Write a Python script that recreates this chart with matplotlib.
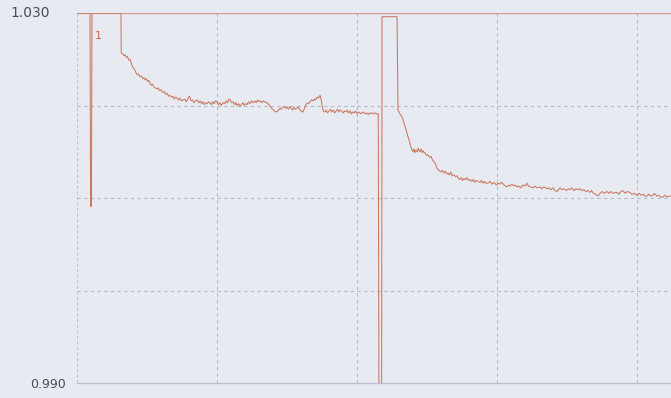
import numpy as np
import matplotlib.pyplot as plt

# trace 1: start, spike, first decay, drop
x1 = [0, 9.3, 9.7, 10.3, 10.7, 31.4, 31.6,
      32.5, 33.5, 34.3, 35.2, 36.0, 37.0, 37.9, 38.8, 39.6, 40.5, 41.4, 42.3, 43.2, 44.0,
      45.0, 46.0, 47.0, 47.8, 48.6, 49.5, 50.4, 51.3, 52.1, 53.0, 54.0, 55.0, 56.0, 57.1,
      58.0, 59.0, 60.0, 61.4, 62.5, 63.5, 64.5, 65.5, 66.4, 67.5, 68.5, 69.5, 70.5, 71.4,
      72.5, 73.5, 74.5, 75.7, 77.0, 78.0, 79.0, 80.0, 80.7, 81.5, 82.5, 83.5, 84.5, 85.7,
      87.0, 88.0, 89.0, 90.0, 91.0, 92.0, 93.0, 94.0, 95.0, 96.0, 97.0, 98.0, 99.0, 100.0,
      101.0, 102.0, 103.0, 104.3, 105.5, 106.5, 107.5, 108.5, 109.3, 110.5, 111.5, 112.5,
      113.5, 114.3, 115.5, 116.5, 117.5, 118.5, 119.5, 120.5, 121.4, 122.5, 123.5, 124.5,
      125.7, 127.0, 128.0, 129.0, 130.0, 131.0, 132.0, 133.0, 134.0, 135.7, 137.0, 138.0,
      139.0, 140.0, 141.0, 142.9, 144.0, 145.0, 146.0, 147.0, 148.0, 149.0, 150.0, 151.0,
      152.0, 153.0, 154.0, 155.0, 156.0, 157.1, 158.0, 159.0, 160.0, 161.4, 162.5, 163.5,
      164.5, 165.5, 166.4, 167.5, 168.5, 169.5, 170.5, 171.4, 172.5, 173.6, 174.5, 175.3,
      176.0, 177.1, 178.0, 179.0, 180.0, 181.0, 182.0, 182.9, 184.0, 185.0, 186.0, 187.0,
      188.0, 189.0, 190.0, 191.0, 192.0, 193.0, 194.0, 195.0, 196.0, 197.0, 198.0, 199.0,
      200.0, 201.0, 202.0, 203.0, 204.0, 205.0, 206.0, 207.0, 208.0, 209.0, 210.0, 211.0,
      212.0, 213.0, 214.0, 215.2, 215.7]
y1 = [1.030, 1.030, 1.0091, 1.0091, 1.030, 1.030, 1.0257,
      1.0256, 1.0254, 1.0255, 1.0252, 1.0253, 1.0249, 1.0250, 1.0246, 1.0242, 1.0240, 1.0238, 1.0235, 1.0233, 1.0234,
      1.0231, 1.0232, 1.0229, 1.0230, 1.0228, 1.0229, 1.0226, 1.0227, 1.0224, 1.0222, 1.0223, 1.0220, 1.0219, 1.0218,
      1.0219, 1.0216, 1.0217, 1.0214, 1.0215, 1.0212, 1.0213, 1.0210, 1.0211, 1.0209, 1.0210, 1.0207, 1.0209, 1.0208,
      1.0206, 1.0208, 1.0205, 1.0206, 1.0207, 1.0204, 1.0206, 1.0210, 1.0209, 1.0205, 1.0206, 1.0203, 1.0205, 1.0206,
      1.0203, 1.0205, 1.0202, 1.0204, 1.0201, 1.0203, 1.0202, 1.0204, 1.0203, 1.0201, 1.0204, 1.0202, 1.0205, 1.0204,
      1.0201, 1.0203, 1.0200, 1.0203, 1.0202, 1.0205, 1.0203, 1.0207, 1.0206, 1.0203, 1.0204, 1.0201,
      1.0203, 1.0200, 1.0202, 1.0199, 1.0201, 1.0203, 1.0200, 1.0202, 1.0201, 1.0204, 1.0202, 1.0205,
      1.0203, 1.0205, 1.0203, 1.0206, 1.0204, 1.0205, 1.0203, 1.0205, 1.0204, 1.0203, 1.0201, 1.0199,
      1.0197, 1.0196, 1.0194, 1.0193, 1.0195, 1.0197, 1.0196, 1.0198, 1.0199, 1.0197, 1.0198, 1.0196,
      1.0199, 1.0197, 1.0195, 1.0198, 1.0196, 1.0197, 1.0199, 1.0196, 1.0194, 1.0193, 1.0197, 1.0201,
      1.0203, 1.0202, 1.0204, 1.0206, 1.0205, 1.0207, 1.0206, 1.0209, 1.0208, 1.0211, 1.0206, 1.0198,
      1.0194, 1.0193, 1.0195, 1.0192, 1.0194, 1.0196, 1.0193, 1.0195, 1.0192, 1.0194, 1.0196, 1.0193,
      1.0195, 1.0194, 1.0192, 1.0194, 1.0193, 1.0195, 1.0192, 1.0194, 1.0191, 1.0193, 1.0192, 1.0194,
      1.0191, 1.0193, 1.0192, 1.0191, 1.0193, 1.0192, 1.0191, 1.0192, 1.0190, 1.0192, 1.0191, 1.0192,
      1.0191, 1.0192, 1.0191, 1.0191, 0.9880]

# trace 2: jump to top, second decay
x2 = [217.6, 217.9, 228.6, 229.3, 230.0, 231.0, 232.1, 233.0, 234.0, 235.0, 235.7, 236.5,
      237.5, 238.5, 239.3, 240.0, 240.7, 241.4, 242.2, 243.0, 243.8, 244.5, 245.0, 245.8,
      246.5, 247.3, 248.0, 248.6, 249.5, 250.5, 251.3, 252.1, 253.0, 254.0, 255.0, 255.7,
      256.5, 257.5, 258.5, 259.3, 260.0, 261.0, 262.0, 263.0, 264.0, 265.0, 266.0, 267.0,
      268.0, 269.3, 270.5, 271.5, 272.5, 273.6, 274.5, 275.5, 276.5, 277.5, 278.5, 279.5,
      280.7, 282.0, 283.0, 284.0, 285.0, 286.0, 287.9, 289.0, 290.0, 291.0, 292.0, 293.6,
      295.0, 296.5, 298.0, 299.5, 301.0, 302.1, 303.5, 305.0, 306.0, 307.1, 308.5, 309.5,
      310.7, 312.0, 313.0, 314.3, 315.5, 317.0, 318.5, 320.0, 321.4, 322.5, 324.0, 325.7,
      327.0, 328.5, 330.7, 332.0, 333.5, 335.7, 337.0, 338.5, 340.0, 341.5, 342.9, 344.0,
      345.0, 346.5, 348.0, 349.5, 351.0, 352.1, 353.5, 355.0, 356.5, 358.0, 359.3, 360.5,
      362.0, 363.5, 365.0, 366.4, 367.5, 369.0, 370.5, 372.1, 373.5, 375.0, 376.5, 378.6,
      380.0, 381.5, 383.0, 384.5, 385.7, 387.0, 388.5, 390.0, 391.5, 393.0, 395.0, 396.5,
      398.0, 400.0, 401.5, 403.0, 404.5, 405.5, 407.1, 408.5, 410.0, 411.4, 412.5, 414.0,
      415.5, 417.0, 418.6, 420.0, 421.5, 423.0, 424.3]
y2 = [0.9880, 1.0296, 1.0296, 1.0195, 1.0193, 1.0190, 1.0188, 1.0184, 1.0179, 1.0174, 1.0170, 1.0166,
      1.0161, 1.0155, 1.0152, 1.0150, 1.0153, 1.0149, 1.0152, 1.0150, 1.0154, 1.0151, 1.0150, 1.0153,
      1.0149, 1.0151, 1.0149, 1.0149, 1.0146, 1.0147, 1.0145, 1.0144, 1.0145, 1.0141, 1.0139, 1.0138,
      1.0135, 1.0131, 1.0130, 1.0129, 1.0128, 1.0130, 1.0127, 1.0129, 1.0126, 1.0127, 1.0125, 1.0128,
      1.0124, 1.0125, 1.0123, 1.0124, 1.0121, 1.0120, 1.0122, 1.0119, 1.0121, 1.0120, 1.0122, 1.0119,
      1.0120, 1.0118, 1.0120, 1.0117, 1.0119, 1.0118, 1.0117, 1.0119, 1.0116, 1.0118, 1.0116, 1.0116,
      1.0118, 1.0115, 1.0117, 1.0114, 1.0116, 1.0115, 1.0117, 1.0114, 1.0113, 1.0112, 1.0114, 1.0113,
      1.0115, 1.0113, 1.0114, 1.0112, 1.0113, 1.0111, 1.0114, 1.0113, 1.0116, 1.0113, 1.0112, 1.0111,
      1.0113, 1.0111, 1.0112, 1.0110, 1.0112, 1.0110, 1.0111, 1.0109, 1.0111, 1.0108, 1.0107, 1.0109,
      1.0111, 1.0109, 1.0110, 1.0108, 1.0110, 1.0109, 1.0111, 1.0108, 1.0110, 1.0109, 1.0110, 1.0108,
      1.0109, 1.0107, 1.0108, 1.0106, 1.0108, 1.0105, 1.0104, 1.0102, 1.0105, 1.0107, 1.0105, 1.0107,
      1.0105, 1.0107, 1.0105, 1.0106, 1.0106, 1.0104, 1.0107, 1.0108, 1.0105, 1.0107, 1.0106, 1.0104,
      1.0105, 1.0103, 1.0105, 1.0103, 1.0104, 1.0102, 1.0102, 1.0104, 1.0102, 1.0103, 1.0105, 1.0102,
      1.0103, 1.0101, 1.0101, 1.0103, 1.0101, 1.0102, 1.0102]

grid_y = [1.000, 1.010, 1.020]
grid_x = [100, 200, 300, 400]
y_labels = ["1.030", "0.990"]

bg = '#e8eaf2'
red = '#c9785f'
grey = '#b6bac6'

fig = plt.figure(figsize=(6.71, 3.98), dpi=100, facecolor=bg)
ax = fig.add_axes([77/671, 15/398, 594/671, 370/398], facecolor=bg)

for g in grid_y:
    ax.axhline(g, color=grey, lw=0.8, ls=(0, (3, 3)), zorder=1)
for g in grid_x:
    ax.axvline(g, color=grey, lw=0.8, ls=(0, (3, 3)), zorder=1)
ax.axvline(0, color='#c0c4cf', lw=0.8, ls=(0, (3, 2)), zorder=1)
ax.axhline(1.030, color='#d49488', lw=0.9, zorder=2)

ax.plot(x1, y1, color=red, lw=0.75, zorder=3)
ax.plot(x2, y2, color=red, lw=0.75, zorder=3)
ax.text(15, 1.0275, "1", color='#c8684c', fontsize=8, ha='center', va='center')

ax.set_xlim(0, 424.3)
ax.set_ylim(0.990, 1.030)
ax.set_xticks([])
ax.set_yticks([])
for s in ['top', 'right', 'left']:
    ax.spines[s].set_visible(False)
ax.spines['bottom'].set_color('#bcc0cc')
ax.spines['bottom'].set_linewidth(0.9)

fig.text(30/671, 1 - 13/398, y_labels[0], color='#4a4c57', fontsize=10, ha='center', va='center')
fig.text(48/671, 1 - 384/398, y_labels[1], color='#4a4c57', fontsize=9, ha='center', va='center')

fig.savefig('out.png', dpi=100, facecolor=bg)
